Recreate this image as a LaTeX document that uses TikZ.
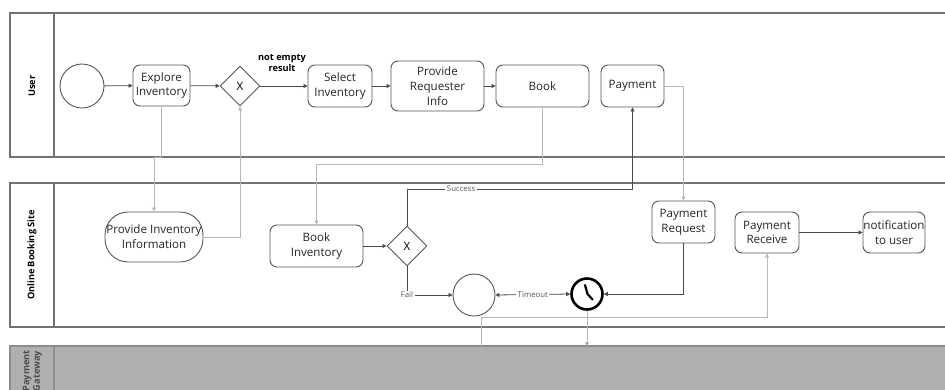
\documentclass[tikz,border=0pt]{standalone}
\usepackage{fontspec}
\setmainfont{Open Sans}
\usetikzlibrary{shapes.geometric,shapes.misc,arrows.meta}
\definecolor{edge}{HTML}{555555}
\definecolor{flowdark}{HTML}{4A4A4A}
\definecolor{flowlight}{HTML}{B8B8B8}
\definecolor{lanegray}{HTML}{B0B0B0}
\tikzset{
  task/.style={draw=edge, line width=0.9pt, rounded corners=7pt, align=center,
    inner sep=1pt, font=\fontsize{11.6}{14.8}\selectfont, text=black!85},
  gate/.style={draw=edge, line width=0.9pt, diamond, minimum width=40pt,
    minimum height=40pt, inner sep=0pt, font=\fontsize{11.5}{14}\selectfont},
  event/.style={draw=edge, line width=0.9pt, circle, minimum size=#1, inner sep=0pt},
  flow/.style={draw=flowdark, line width=0.8pt, -{Triangle[length=4pt,width=4pt]}},
  msg/.style={draw=flowlight, line width=0.8pt, -{Triangle[length=4pt,width=4pt]}},
  flowlabel/.style={fill=white, inner sep=1.5pt, font=\fontsize{7.8}{9}\selectfont, text=black!65},
  lanetitle/.style={rotate=90, font=\bfseries\fontsize{9.2}{10.5}\selectfont, align=center},
  laneline/.style={draw=black!55, line width=1.2pt}
}
\begin{document}
\begin{tikzpicture}[x=1pt, y=-1pt]
\clip (0,0) rectangle (945,389);
\fill[white] (0,0) rectangle (945,389);

% swimlanes
\draw[laneline] (10,13) rectangle (960,157);
\draw[laneline] (54,13) -- (54,157);
\draw[laneline] (10,183) rectangle (960,327);
\draw[laneline] (54,183) -- (54,327);
\draw[laneline, draw=black!45, fill=lanegray] (10,346) rectangle (960,400);
\draw[laneline, draw=black!45] (54,346) -- (54,400);
\node[lanetitle] (laneUser) at (32,86) {User};
\node[lanetitle] (laneSite) at (32,255) {Online Booking Site};
\node[lanetitle, text=black!70] (laneGate) at (32.5,371) {Payment\\Gateway};

% user lane
\node[event=44pt] (start) at (82,86) {};
\node[task, minimum width=57pt, minimum height=41pt] (explore) at (161.5,85.5) {Explore\\Inventory};
\node[gate] (gw1) at (240,86) {X};
\node[task, minimum width=64pt, minimum height=42pt] (select) at (340,86) {Select\\Inventory};
\node[task, minimum width=93pt, minimum height=50pt] (requester) at (437.5,86) {Provide\\Requester\\Info};
\node[task, minimum width=93pt, minimum height=42pt] (book) at (542.5,86) {Book};
\node[task, minimum width=63pt, minimum height=42pt] (payment) at (632.5,86) {Payment};

% booking site lane
\node[task, rounded corners=23pt, minimum width=98pt, minimum height=50pt, inner sep=0pt] (provinfo) at (154,237) {Provide Inventory\\Information};
\node[task, minimum width=93pt, minimum height=42pt] (bookinv) at (316.5,246) {Book\\Inventory};
\node[gate] (gw2) at (407,246) {X};
\node[event=42pt] (endc) at (474,295) {};
\node[circle, draw=black, line width=2.6pt, minimum size=31pt, inner sep=0pt] (timer) at (587,294) {};
\draw[black, line width=2.2pt, line cap=round, line join=round] (585,285) -- (587.5,294) -- (592.5,299.5);
\node[task, minimum width=63pt, minimum height=42pt] (payreq) at (683.5,222) {Payment\\Request};
\node[task, minimum width=64pt, minimum height=41pt] (payrecv) at (767,232.5) {Payment\\Receive};
\node[task, minimum width=62pt, minimum height=41pt, inner sep=0pt] (notif) at (894,232.5) {notification\\to user};

% gateway lane attachment points
\coordinate (gateIn) at (481,346);
\coordinate (gateOut) at (587,346);

% sequence flows
\draw[flow] (start) -- (explore);
\draw[flow] (explore) -- (gw1);
\draw[flow] (gw1) -- (select);
\node[font=\bfseries\fontsize{9.2}{11.5}\selectfont, align=center] (notEmpty) at (282,63) {not empty\\result};
\draw[flow] (select) -- (requester);
\draw[flow] (requester) -- (book);
\draw[msg] (explore.south) -- (161.5,157) -- (154,157) -- (provinfo.north);
\draw[msg] (provinfo.east) -| (gw1.south);
\draw[msg] (book.south) |- (316.5,164) -- (bookinv.north);
\draw[flow] (bookinv) -- (gw2);
\draw[flow] (gw2.north) -- (407,189) -- node[flowlabel, pos=0.24] (succ) {Success} (632.5,189) -- (payment.south);
\draw[flow] (gw2.south) |- node[flowlabel, pos=0.5] (fail) {Fail} (endc.west);
\draw[flow, {Triangle[length=4pt,width=4pt]}-{Triangle[length=4pt,width=4pt]}] (endc.east) -- node[flowlabel] (tout) {Timeout} (timer.west);
\draw[msg] (payment.east) -| (payreq.north);
\draw[flow] (payreq.south) |- (timer.east);
\draw[flow, line width=1.3pt] (payrecv) -- (notif);
\draw[msg] (gateIn) |- (767,317) -- (payrecv.south);
\draw[msg, -{Triangle[length=4pt,width=4pt,fill=flowdark]}] (timer.south) -- (gateOut);
\end{tikzpicture}
\end{document}
